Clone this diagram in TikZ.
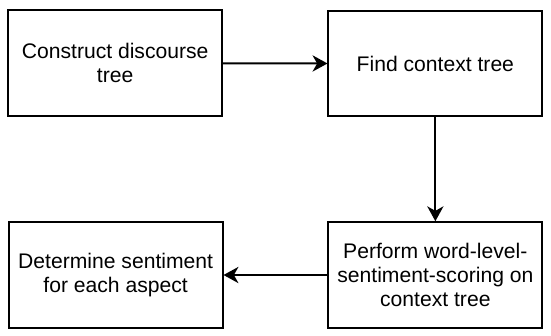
\documentclass[tikz,border=0pt]{standalone}
\usepackage{fontspec}
\setmainfont{Liberation Sans}
\usetikzlibrary{arrows.meta}

\begin{document}
\begin{tikzpicture}[x=0.75pt, y=-0.75pt,
		stepbox/.style={draw, line width=1.5pt, minimum width=165pt, minimum height=81.5pt, inner sep=0pt, align=center, font=\fontsize{16.3pt}{18.75pt}\selectfont},
		flow/.style={line width=1.5pt, -{Stealth[length=11.5pt, width=12.5pt, inset=3.5pt]}}]
		%%%%% START %%%%%
		\useasboundingbox (0, 0) rectangle (567, 345);
		
		\node[stepbox] (construct) at (118.5, 65) {Construct discourse\\tree};
		\node[stepbox] (context) at (448, 65.5) {Find context tree};
		
		\node[stepbox] (scoring) at (448, 283) {Perform word-level-\\sentiment-scoring on\\context tree};
		\node[stepbox] (aspect) at (119, 283) {Determine sentiment\\for each aspect};
		
		\draw[flow] (construct) -- (context);
		\draw[flow] (context) -- (scoring);
		\draw[flow] (scoring) -- (aspect);
		%%%%% END %%%%%
\end{tikzpicture}
\end{document}
